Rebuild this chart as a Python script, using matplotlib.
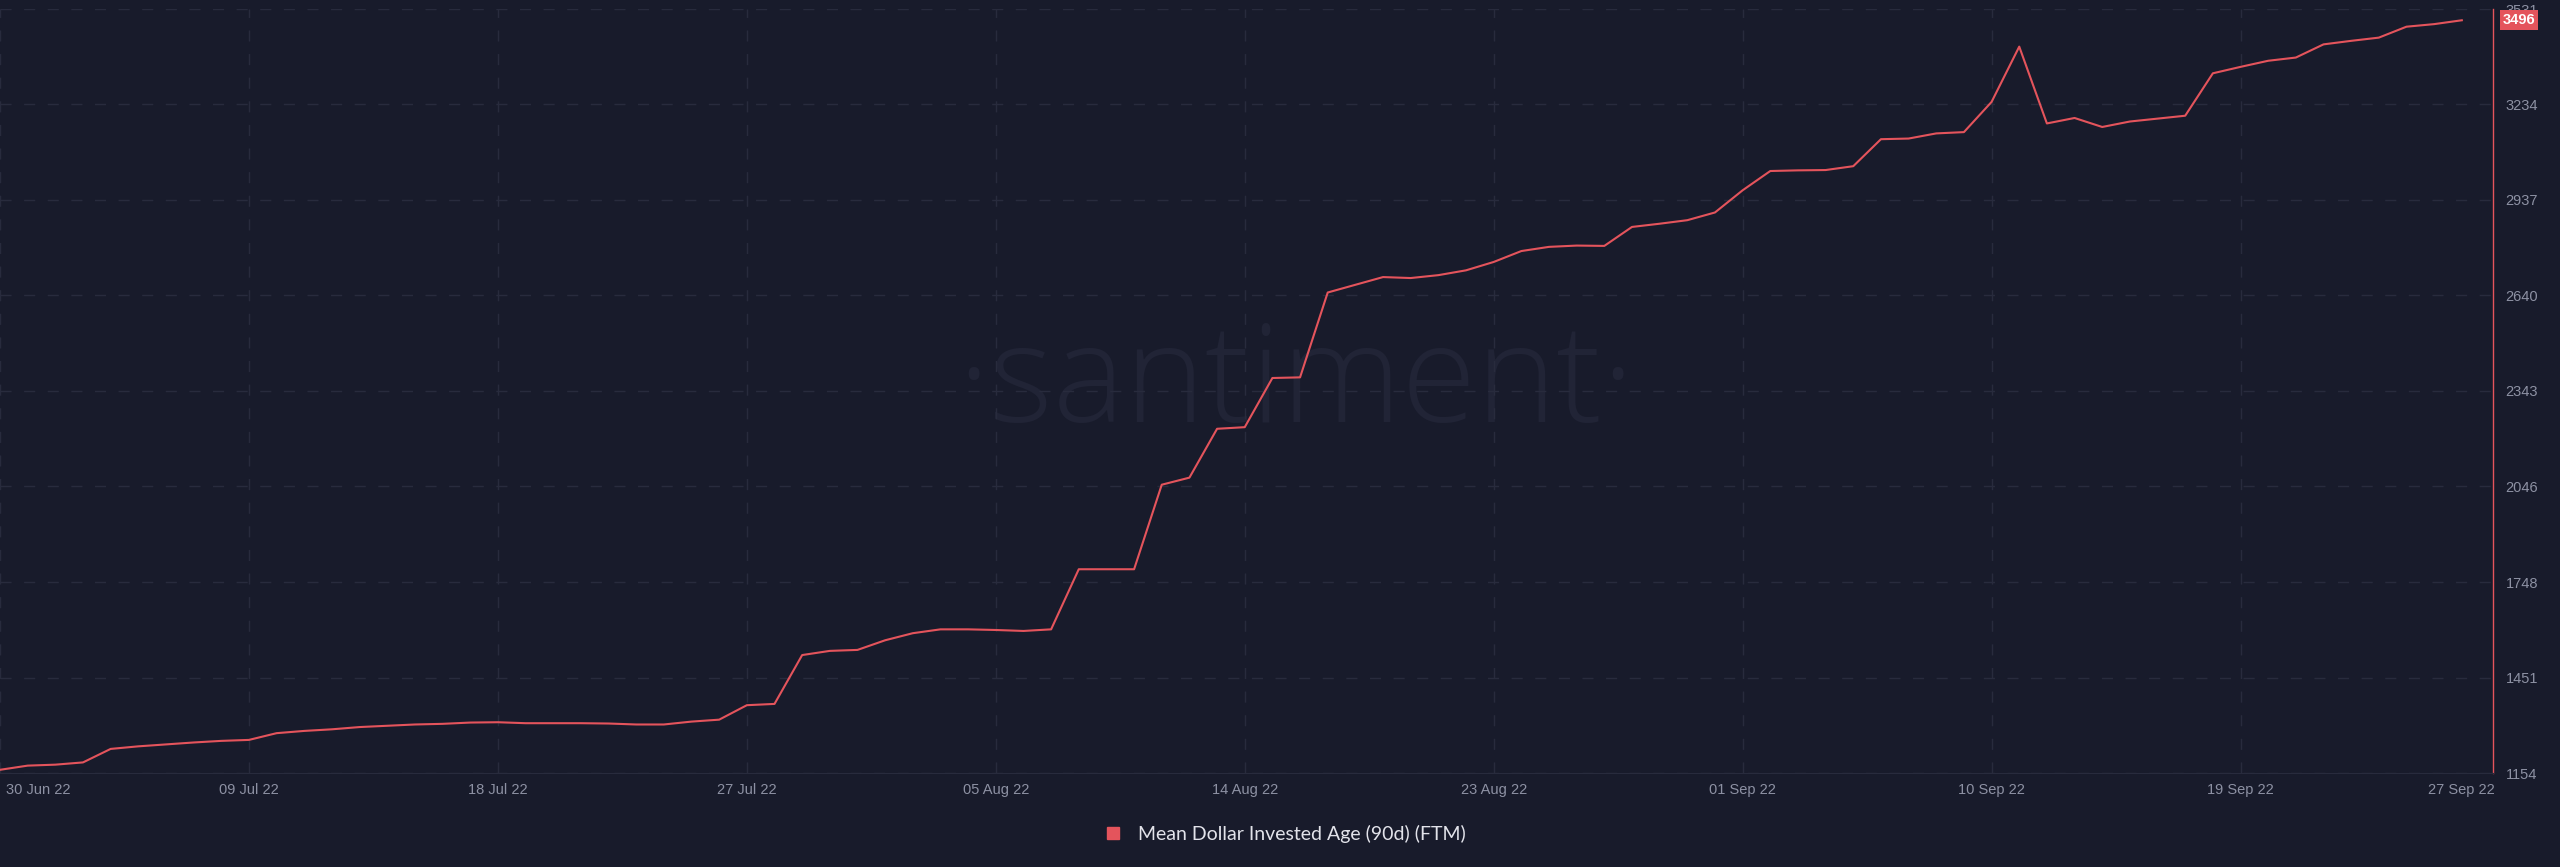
import numpy as np
import pandas as pd
import matplotlib
matplotlib.use('Agg')
import matplotlib.pyplot as plt
import matplotlib.dates as mdates
from matplotlib.lines import Line2D
from matplotlib import transforms

# Data (daily values, 30 Jun 22 .. 27 Sep 22)
start_date = '2022-06-30'
mdia_values = [
    1164, 1177, 1180, 1187, 1229, 1237, 1243, 1249, 1254, 1257,
    1278, 1285, 1290, 1297, 1301, 1305, 1307, 1311, 1312, 1309,
    1309, 1309, 1308, 1305, 1305, 1314, 1320, 1365, 1369, 1521,
    1534, 1537, 1567, 1589, 1601, 1601, 1599, 1596, 1601, 1788,
    1788, 1788, 2051, 2073, 2225, 2230, 2383, 2385, 2649, 2673,
    2697, 2694, 2703, 2718, 2744, 2778, 2791, 2795, 2794, 2853,
    2863, 2874, 2898, 2967, 3027, 3029, 3030, 3042, 3126, 3128,
    3144, 3148, 3242, 3414, 3175, 3192, 3164, 3181, 3190, 3199,
    3331, 3351, 3370, 3380, 3421, 3432, 3442, 3476, 3484, 3496,
]
x_tick_dates = ['2022-06-30', '2022-07-09', '2022-07-18', '2022-07-27', '2022-08-05',
                '2022-08-14', '2022-08-23', '2022-09-01', '2022-09-10', '2022-09-19',
                '2022-09-27']
y_ticks = [1154, 1451, 1748, 2046, 2343, 2640, 2937, 3234, 3531]
series_label = 'Mean Dollar Invested Age (90d) (FTM)'

dates = pd.date_range(start_date, periods=len(mdia_values), freq='D')

bg = '#181b2b'
grid_c = '#282b3d'
line_c = '#e4545c'
tick_c = '#8d91a3'

fig = plt.figure(figsize=(25.6, 8.67), dpi=100, facecolor=bg)
ax = fig.add_axes([0.0, 0.1084, 0.9738, 0.8812])
ax.set_facecolor(bg)

# watermark
ax.text(0.52, 0.459, '\u00b7santiment\u00b7', transform=ax.transAxes, ha='center', va='baseline',
        fontsize=98, color='#212436', family='Open Sans', fontweight='light', zorder=0)

ax.plot(dates, mdia_values, color=line_c, lw=1.5, zorder=3)

ax.set_ylim(y_ticks[0], y_ticks[-1])
ax.set_xlim(dates[0], dates[-1] + pd.Timedelta(hours=27))

ax.yaxis.tick_right()
ax.set_yticks(y_ticks)
ax.set_yticklabels([str(v) for v in y_ticks])
ax.set_xticks(pd.to_datetime(x_tick_dates))
ax.xaxis.set_major_formatter(mdates.DateFormatter('%d %b %y'))
ax.tick_params(axis='both', length=0, colors=tick_c, labelsize=10.5)
ax.tick_params(axis='y', pad=9)
ax.tick_params(axis='x', pad=7)
for lab in ax.get_xticklabels() + ax.get_yticklabels():
    lab.set_family('Liberation Sans')
first = ax.get_xticklabels()[0]
first.set_horizontalalignment('left')
first.set_transform(first.get_transform() + transforms.ScaledTranslation(6 / 100, 0, fig.dpi_scale_trans))

ax.grid(True, color=grid_c, lw=1, linestyle=(0, (8, 9)))
# no grid line under the last date label
ax.xaxis.get_gridlines()[-1].set_visible(False)
for s in ['left', 'top']:
    ax.spines[s].set_visible(False)
ax.spines['bottom'].set_color(grid_c)
ax.spines['right'].set_color(line_c)
ax.spines['right'].set_linewidth(1)

# last value badge
ax.text(1.004, mdia_values[-1], str(mdia_values[-1]),
        transform=transforms.blended_transform_factory(ax.transAxes, ax.transData),
        ha='left', va='center', fontsize=10.5, color='white', family='Liberation Sans',
        fontweight='bold', clip_on=False,
        bbox=dict(boxstyle='square,pad=0.2', fc=line_c, ec='none'))

handle = Line2D([], [], color=line_c, marker='s', linestyle='none', markersize=9)
fig.legend([handle], [series_label], loc='center', bbox_to_anchor=(0.5, 1 - 834 / 867),
           frameon=False, handletextpad=0.3, prop={'family': 'Lato', 'size': 14},
           labelcolor='#e2e3ea')

fig.savefig('out.png', dpi=100, facecolor=bg)
